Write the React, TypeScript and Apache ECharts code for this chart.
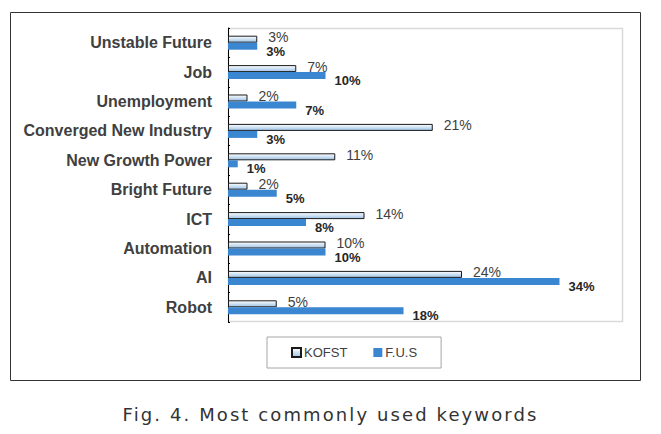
import React, { useEffect, useRef } from "react";
import * as echarts from "echarts";

const categories = [
  "Unstable Future",
  "Job",
  "Unemployment",
  "Converged New Industry",
  "New Growth Power",
  "Bright Future",
  "ICT",
  "Automation",
  "AI",
  "Robot",
];
const kofstValues = [3, 7, 2, 21, 11, 2, 14, 10, 24, 5];
const fusValues = [3, 10, 7, 3, 1, 5, 8, 10, 34, 18];
const seriesNames = ["KOFST", "F.U.S"];
const caption = "Fig. 4. Most commonly used keywords";

export default function App() {
  const ref = useRef<HTMLDivElement>(null);
  useEffect(() => {
    if (!ref.current) return;
    const chart = echarts.init(ref.current, null, { renderer: "svg" });
    const kofstFill = new echarts.graphic.LinearGradient(0, 0, 0, 1, [
      { offset: 0, color: "#ffffff" },
      { offset: 1, color: "#9cc2e6" },
    ]);
    chart.setOption({
      animation: false,
      backgroundColor: "#ffffff",
      textStyle: { fontFamily: "Liberation Sans" },
      graphic: [
        {
          type: "rect",
          shape: { x: 10.5, y: 12.5, width: 630, height: 368 },
          style: { fill: "none", stroke: "#333333", lineWidth: 1 },
          silent: true,
        },
        {
          type: "rect",
          shape: { x: 228.5, y: 28.5, width: 394, height: 293 },
          style: { fill: "none", stroke: "#d9d9d9", lineWidth: 1.5 },
          silent: true,
        },
      ],
      grid: { left: 228, top: 28, width: 390, height: 294, containLabel: false },
      legend: {
        data: seriesNames,
        left: 267,
        top: 337,
        padding: [9, 24, 9, 24],
        borderColor: "#a6a6a6",
        borderWidth: 1,
        itemWidth: 9,
        itemHeight: 9,
        itemGap: 26,
        icon: "rect",
        textStyle: {
          fontFamily: "Liberation Sans Narrow, Liberation Sans",
          fontSize: 13,
          color: "#404040",
          padding: [0, 0, 0, -2],
        },
      },
      xAxis: {
        type: "value",
        min: 0,
        max: 40,
        show: false,
        splitLine: { show: false },
      },
      yAxis: {
        type: "category",
        data: categories,
        inverse: true,
        axisLine: { show: true, lineStyle: { color: "#000000", width: 1 } },
        axisTick: { show: true, inside: true, length: 2, lineStyle: { color: "#000000" } },
        axisLabel: {
          margin: 16,
          fontSize: 16,
          fontWeight: "bold",
          color: "#404040",
          fontFamily: "Liberation Sans",
        },
      },
      series: [
        {
          name: seriesNames[0],
          type: "bar",
          data: kofstValues,
          barWidth: 7,
          barGap: "0%",
          itemStyle: { color: kofstFill, borderColor: "#1a1a1a", borderWidth: 1 },
          label: {
            show: true,
            position: "right",
            distance: 11,
            offset: [0, -2],
            formatter: "{c}%",
            fontSize: 14,
            lineHeight: 14,
            color: "#404040",
            fontFamily: "Liberation Sans",
          },
        },
        {
          name: seriesNames[1],
          type: "bar",
          data: fusValues,
          barWidth: 7,
          barGap: "0%",
          itemStyle: { color: "#3a86d0" },
          label: {
            show: true,
            position: "right",
            distance: 9,
            offset: [0, 5],
            formatter: "{c}%",
            fontSize: 13,
            lineHeight: 13,
            fontWeight: "bold",
            color: "#262626",
            fontFamily: "Liberation Sans",
          },
        },
      ],
    });
    return () => chart.dispose();
  }, []);
  return (
    <div style={{ position: "fixed", left: 0, top: 0, width: 661, height: 434, background: "#fff" }}>
      <div ref={ref} style={{ position: "absolute", left: 0, top: 0, width: 661, height: 434 }} />
      <div
        style={{
          position: "absolute",
          left: 0,
          top: 404,
          width: 661,
          textAlign: "center",
          fontFamily: "DejaVu Sans",
          fontSize: 18,
          letterSpacing: "2.1px",
          color: "#333333",
        }}
      >
        {caption}
      </div>
    </div>
  );
}
